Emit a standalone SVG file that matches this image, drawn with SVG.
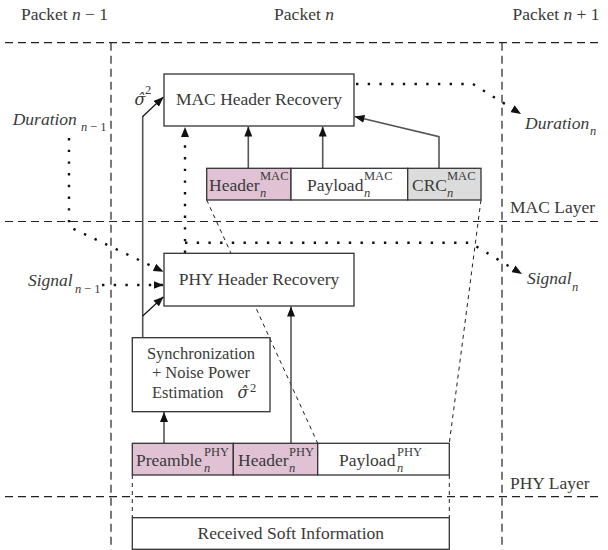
<svg xmlns="http://www.w3.org/2000/svg" width="608" height="550" viewBox="0 0 608 550">
<style>
  text { font-family: "Liberation Serif", "DejaVu Serif", serif; fill: #3a3a3a; }
  .t { font-size: 17.5px; }
  .s { font-size: 16.5px; }
  .c { text-anchor: middle; }
  .it { font-style: italic; }
  .sig { font-family: "DejaVu Serif", "Liberation Serif", serif; font-style: italic; font-size: 16px; }
  .sup { font-size: 12.5px; font-style: normal; }
  .sub { font-size: 12.5px; font-style: italic; }
  .box { fill: #ffffff; stroke: #333333; stroke-width: 1.3; }
  .pink { fill: #e0c2d4; stroke: #333333; stroke-width: 1.3; }
  .grey { fill: #dcdcdc; stroke: #333333; stroke-width: 1.3; }
  .layer { fill: none; stroke: #222222; stroke-width: 1.2; stroke-dasharray: 8 5; }
  .funnel { fill: none; stroke: #222222; stroke-width: 1; stroke-dasharray: 4 4; }
  .arrow { fill: none; stroke: #555555; stroke-width: 1.6; marker-end: url(#ah); }
  .thin { fill: none; stroke: #111111; stroke-width: 1.2; marker-end: url(#ah); }
  .dot { fill: none; stroke: #111111; stroke-width: 2.4; stroke-dasharray: 2.4 9.3; marker-end: url(#ah); }
</style>
<defs>
  <marker id="ah" viewBox="0 0 10 8" refX="10" refY="4" markerWidth="10" markerHeight="8" markerUnits="userSpaceOnUse" orient="auto">
    <path d="M0,0 L10,4 L0,8 z" fill="#111111"/>
  </marker>
</defs>

<g id="layers">
  <line class="layer" x1="5" y1="42.7" x2="602" y2="42.7"/>
  <line class="layer" x1="5" y1="221.5" x2="602" y2="221.5"/>
  <line class="layer" x1="5" y1="496.7" x2="602" y2="496.7"/>
  <line class="layer" x1="111" y1="42.7" x2="111" y2="550"/>
  <line class="layer" x1="502" y1="42.7" x2="502" y2="550"/>
  <line class="funnel" x1="132.3" y1="475" x2="132.3" y2="517.7"/>
  <line class="funnel" x1="449.3" y1="475" x2="449.3" y2="517.7"/>
  <line class="funnel" x1="206.7" y1="200" x2="317.7" y2="443.3"/>
  <line class="funnel" x1="481" y1="200" x2="449.3" y2="443.3"/>
</g>

<g id="labels">
  <text class="t c" x="64.5" y="20">Packet <tspan class="it">n</tspan> − 1</text>
  <text class="t c" x="304" y="20">Packet <tspan class="it">n</tspan></text>
  <text class="t c" x="556" y="20">Packet <tspan class="it">n</tspan> + 1</text>
  <text class="t" x="510" y="213">MAC Layer</text>
  <text class="t" x="510" y="489">PHY Layer</text>
  <text class="t"><tspan class="it" x="12.7" y="125">Duration</tspan><tspan class="sub" x="81" y="131">n</tspan><tspan class="sup" x="90" y="131">− 1</tspan></text>
  <text class="t"><tspan class="it" x="28" y="286">Signal</tspan><tspan class="sub" x="75" y="293">n</tspan><tspan class="sup" x="84" y="293">− 1</tspan></text>
  <text class="t"><tspan class="it" x="525" y="129">Duration</tspan><tspan class="sub" x="590" y="135">n</tspan></text>
  <text class="t"><tspan class="it" x="527" y="284">Signal</tspan><tspan class="sub" x="572" y="291">n</tspan></text>
  <text class="t"><tspan class="sig" x="134.5" y="105">σ̂</tspan><tspan class="sup" x="145" y="94">2</tspan></text>
</g>

<g id="connectors">
  <line class="arrow" x1="248.3" y1="168.3" x2="248.3" y2="126.5"/>
  <line class="arrow" x1="322.7" y1="168.3" x2="322.7" y2="126.5"/>
  <path class="arrow" d="M439,168.3 V136.7 L354.5,116.5"/>
  <line class="arrow" x1="164" y1="443.3" x2="164" y2="412"/>
  <line class="arrow" x1="291" y1="443.3" x2="291" y2="306.5"/>
  <path d="M142.7,337.7 V116" fill="none" stroke="#555555" stroke-width="1.6"/>
  <path class="thin" d="M142.7,116.5 L163.5,97"/>
  <path class="thin" d="M142.7,316 L163.5,296.7"/>
  <path class="dot" d="M185,253 V127"/>
  <path class="dot" d="M185,242.7 H470 L522,274"/>
  <path class="dot" d="M356,84 H473 L521,114"/>
  <path class="dot" d="M69,138 V226.7 L163.5,271.7"/>
  <path class="dot" d="M102,285 H163.5"/>
</g>

<g id="mac-header-recovery">
  <rect class="box" x="164" y="74" width="190" height="52"/>
  <text class="t c" x="259" y="105">MAC Header Recovery</text>
</g>
<g id="mac-header">
  <rect class="pink" x="206.7" y="168.3" width="84.3" height="31.7"/>
  <text class="t"><tspan x="209" y="190.5">Header</tspan><tspan class="sup" x="260" y="180">MAC</tspan><tspan class="sub" x="260" y="196.5">n</tspan></text>
</g>
<g id="mac-payload">
  <rect class="box" x="291" y="168.3" width="116.7" height="31.7"/>
  <text class="t"><tspan x="307" y="190.5">Payload</tspan><tspan class="sup" x="364" y="180">MAC</tspan><tspan class="sub" x="364" y="196.5">n</tspan></text>
</g>
<g id="mac-crc">
  <rect class="grey" x="407.7" y="168.3" width="73.3" height="31.7"/>
  <text class="t"><tspan x="412" y="190.5">CRC</tspan><tspan class="sup" x="447" y="180">MAC</tspan><tspan class="sub" x="447" y="196.5">n</tspan></text>
</g>
<g id="phy-header-recovery">
  <rect class="box" x="164" y="253.3" width="190" height="52.7"/>
  <text class="t c" x="259" y="285">PHY Header Recovery</text>
</g>
<g id="synchronization">
  <rect class="box" x="132.3" y="337.7" width="137.7" height="74"/>
  <text class="s c" x="201" y="359">Synchronization</text>
  <text class="s c" x="201" y="378">+ Noise Power</text>
  <text class="s"><tspan x="152" y="398">Estimation</tspan><tspan class="sig" x="237.5" y="398">σ̂</tspan><tspan class="sup" x="250" y="392">2</tspan></text>
</g>
<g id="phy-preamble">
  <rect class="pink" x="132.3" y="443.3" width="101" height="31.7"/>
  <text class="t"><tspan x="136" y="465.5">Preamble</tspan><tspan class="sup" x="204" y="455.5">PHY</tspan><tspan class="sub" x="204" y="471.5">n</tspan></text>
</g>
<g id="phy-header">
  <rect class="pink" x="233.3" y="443.3" width="84.4" height="31.7"/>
  <text class="t"><tspan x="238" y="465.5">Header</tspan><tspan class="sup" x="289" y="455.5">PHY</tspan><tspan class="sub" x="289" y="471.5">n</tspan></text>
</g>
<g id="phy-payload">
  <rect class="box" x="317.7" y="443.3" width="131.6" height="31.7"/>
  <text class="t"><tspan x="339" y="465.5">Payload</tspan><tspan class="sup" x="397" y="455.5">PHY</tspan><tspan class="sub" x="397" y="471.5">n</tspan></text>
</g>
<g id="received-soft-information">
  <rect class="box" x="132.3" y="517.7" width="317" height="31.6"/>
  <text class="t c" x="290.8" y="539">Received Soft Information</text>
</g>
</svg>
